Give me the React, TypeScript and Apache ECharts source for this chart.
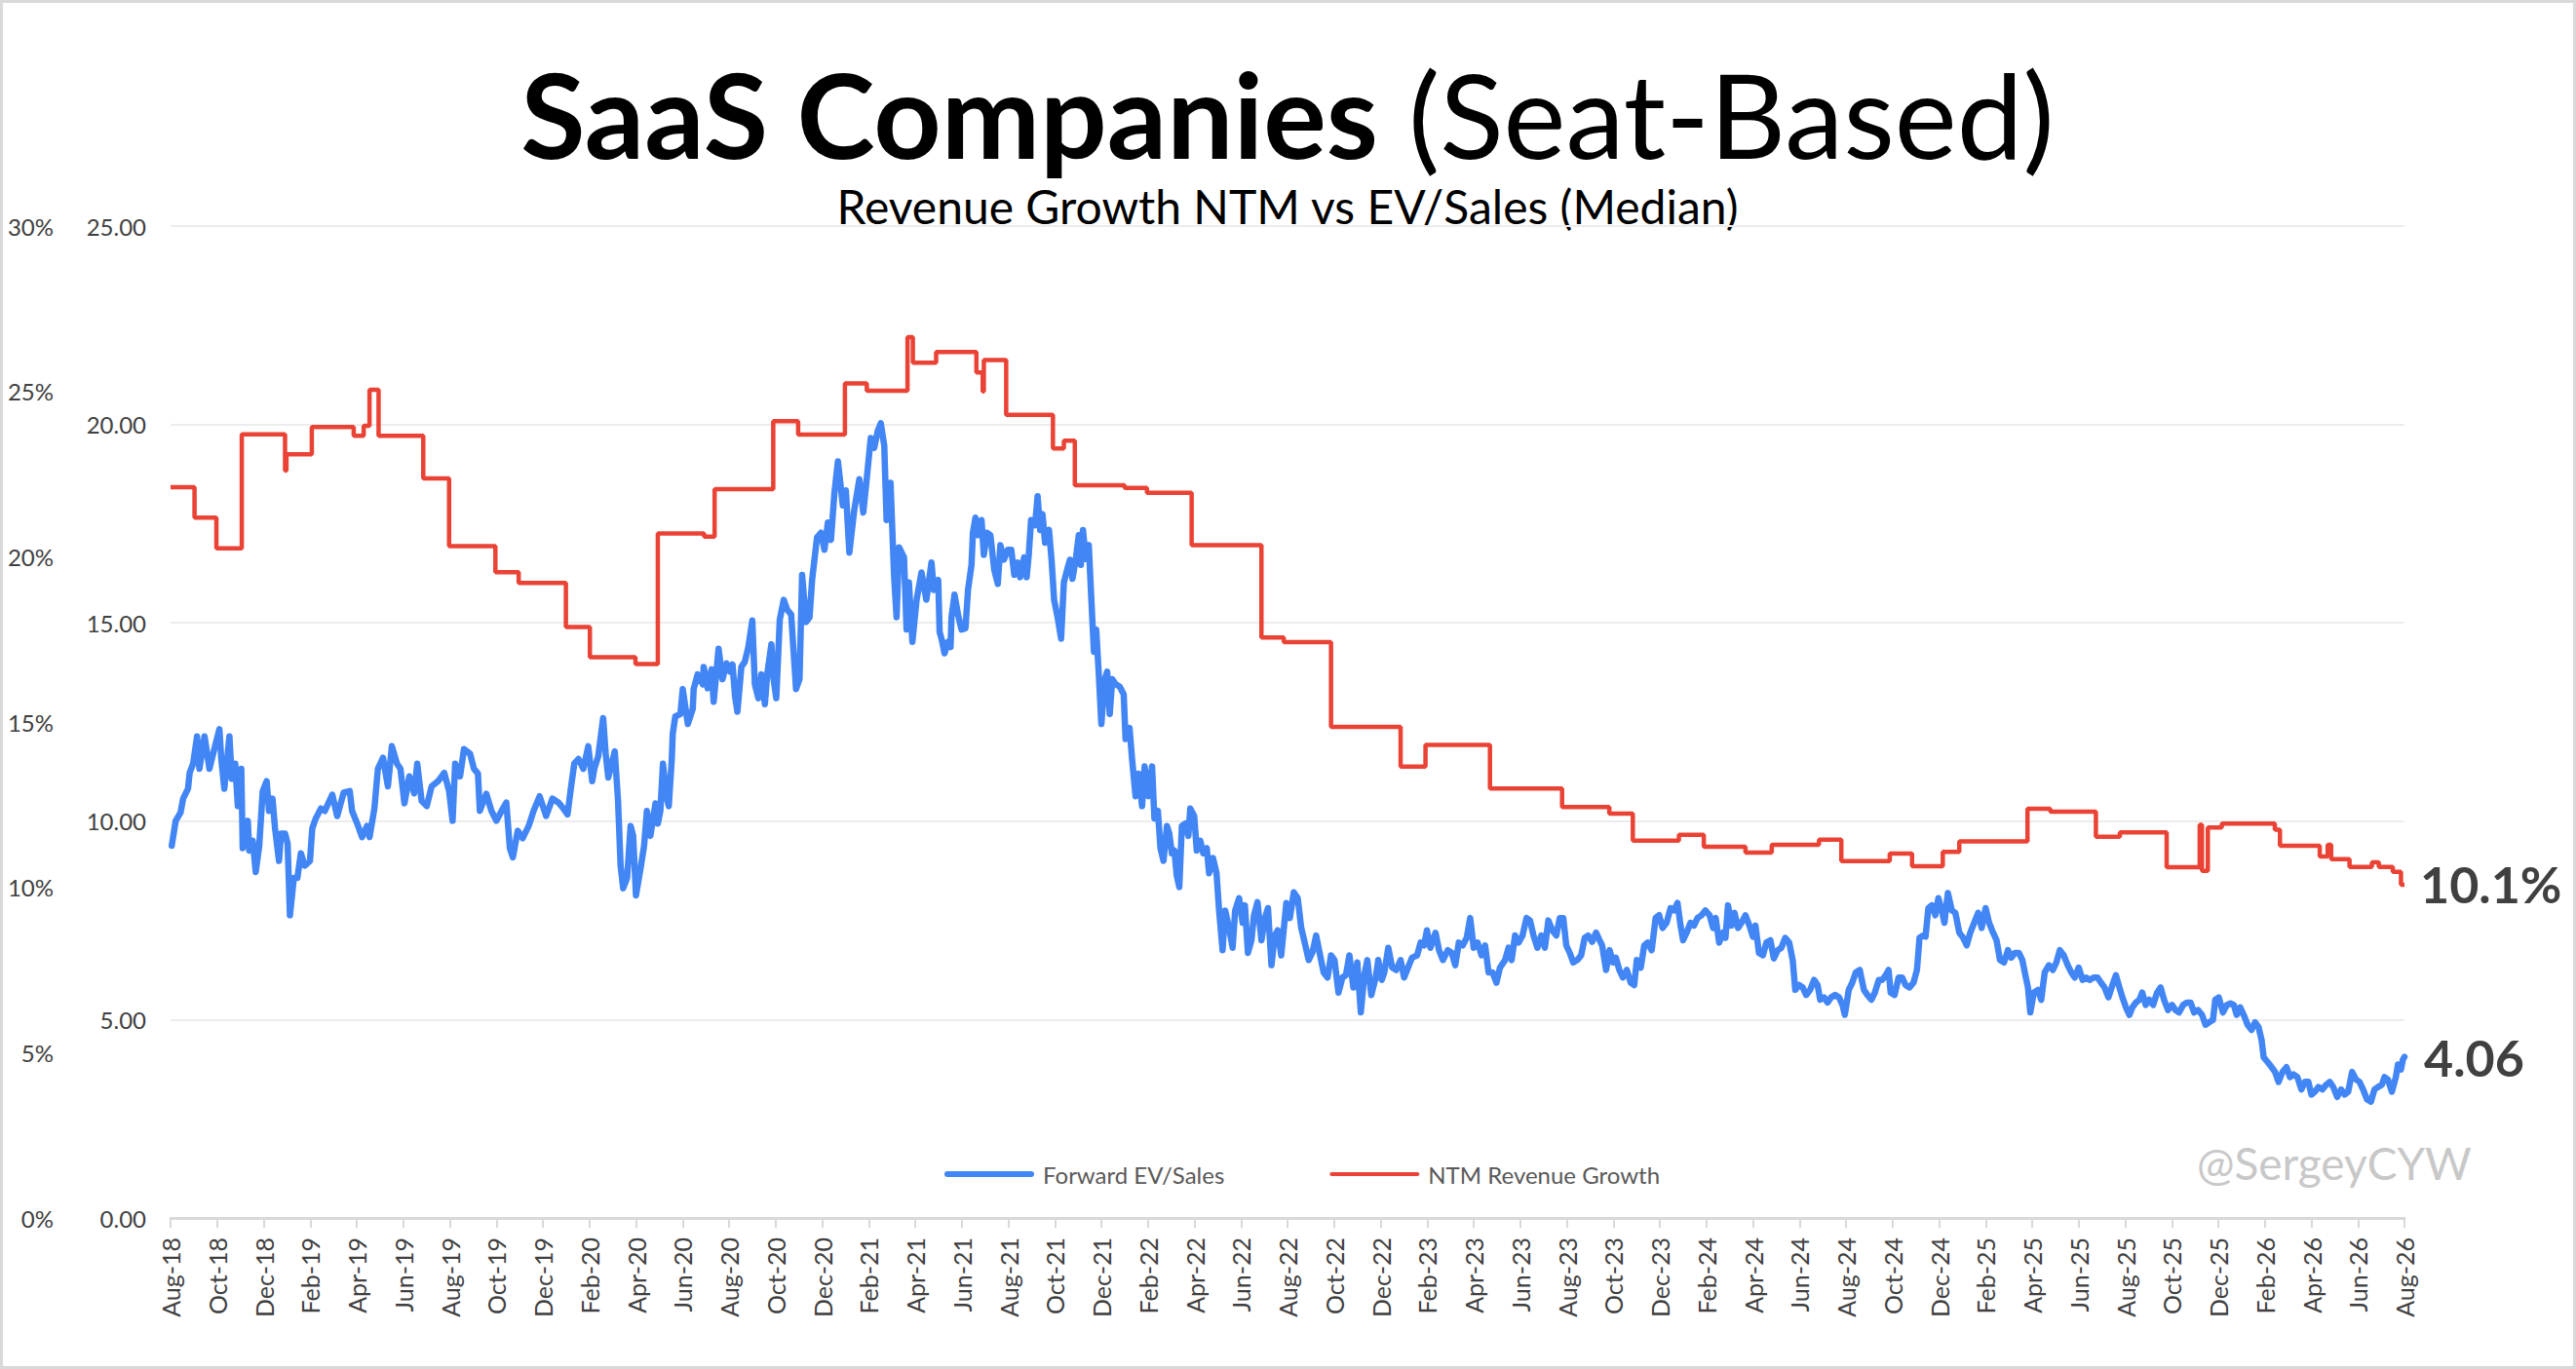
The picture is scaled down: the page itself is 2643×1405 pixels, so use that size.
import { useRef, useEffect } from 'react'
import * as echarts from 'echarts'

const FONT = 'Lato, "Open Sans", sans-serif'

// x = months since Aug-18, ticks every 2 months
const TICK_LABELS = [
  'Aug-18', 'Oct-18', 'Dec-18', 'Feb-19', 'Apr-19', 'Jun-19', 'Aug-19', 'Oct-19', 'Dec-19',
  'Feb-20', 'Apr-20', 'Jun-20', 'Aug-20', 'Oct-20', 'Dec-20', 'Feb-21', 'Apr-21', 'Jun-21',
  'Aug-21', 'Oct-21', 'Dec-21', 'Feb-22', 'Apr-22', 'Jun-22', 'Aug-22', 'Oct-22', 'Dec-22',
  'Feb-23', 'Apr-23', 'Jun-23', 'Aug-23', 'Oct-23', 'Dec-23', 'Feb-24', 'Apr-24', 'Jun-24',
  'Aug-24', 'Oct-24', 'Dec-24', 'Feb-25', 'Apr-25', 'Jun-25', 'Aug-25', 'Oct-25', 'Dec-25',
  'Feb-26', 'Apr-26', 'Jun-26', 'Aug-26',
]

// NTM revenue growth (%), step changes: [month, value]
const GROWTH_MONTH = [
  0, 1.03, 1.97, 3.06, 4.92, 4.98, 6.07, 7.87, 8.3, 8.55, 8.94, 10.86, 11.97, 13.96, 14.96,
  16.99, 18.02, 19.98, 20.94, 22.93, 23.38, 25.9, 26.97, 28.98, 29.92, 31.67, 31.9, 32.9,
  34.63, 34.9, 34.95, 35.91, 37.92, 38.39, 38.86, 41.0, 41.96, 43.88, 46.88, 47.84, 49.87,
  52.86, 53.93, 56.7, 59.8, 61.83, 62.84, 64.82, 65.89, 67.68, 68.81, 70.84, 71.8, 73.88,
  74.84, 76.16, 76.87, 79.8, 80.78, 82.74, 83.77, 85.78, 87.2, 87.3, 87.55, 88.15, 90.43,
  90.65, 92.36, 92.7, 92.85, 93.64, 94.6, 94.9, 95.5, 95.85, 96,
]
const GROWTH_VALUE = [
  22.1, 21.18, 20.25, 23.7, 22.6, 23.1, 23.92, 23.66, 23.96, 25.05, 23.66, 22.37, 20.32, 19.53, 19.21,
  17.87, 16.96, 16.75, 20.7, 20.61, 22.04, 24.1, 23.69, 25.24, 25.02, 26.64, 25.87, 26.19,
  25.57, 25.0, 25.95, 24.29, 23.27, 23.51, 22.16, 22.08, 21.93, 20.35, 17.56, 17.42, 14.85,
  13.65, 14.31, 12.99, 12.43, 12.23, 11.41, 11.59, 11.23, 11.05, 11.29, 11.44, 10.79, 11.02,
  10.64, 11.07, 11.39, 12.38, 12.29, 11.53, 11.66, 10.61, 11.89, 10.5, 11.81, 11.93, 11.74,
  11.26, 10.93, 11.29, 10.85, 10.62, 10.76, 10.62, 10.47, 10.08, 10.1,
]

// Forward EV/Sales: [month, multiple]
const EV_SALES: [number, number][] = [
  [0.05, 9.38], [0.22, 10.01], [0.43, 10.22], [0.54, 10.57], [0.75, 10.82], [0.82, 11.22], [0.97, 11.45],
  [1.14, 12.14], [1.24, 11.32], [1.46, 12.14], [1.67, 11.32], [1.88, 11.82], [2.1, 12.32], [2.18, 11.57],
  [2.31, 10.82], [2.53, 12.14], [2.63, 11.07], [2.78, 11.45], [2.89, 10.38], [3.04, 11.32], [3.1, 9.32],
  [3.32, 10.01], [3.38, 9.26], [3.53, 9.51], [3.66, 8.72], [3.81, 9.38], [3.96, 10.76], [4.13, 11.01],
  [4.23, 10.26], [4.38, 10.57], [4.49, 9.82], [4.66, 9.0], [4.75, 9.69], [4.92, 9.69], [5.03, 9.44],
  [5.13, 7.63], [5.3, 8.57], [5.45, 8.57], [5.6, 9.19], [5.77, 8.88], [5.99, 9.0], [6.09, 9.82],
  [6.24, 10.07], [6.46, 10.32], [6.63, 10.26], [6.95, 10.67], [7.16, 10.13], [7.44, 10.72], [7.7, 10.76],
  [7.8, 10.26], [8.02, 9.94], [8.23, 9.6], [8.44, 9.88], [8.55, 9.6], [8.76, 10.32], [8.91, 11.32],
  [9.13, 11.6], [9.34, 10.88], [9.51, 11.89], [9.73, 11.45], [9.88, 11.32], [10.05, 10.45], [10.26, 11.13],
  [10.47, 10.7], [10.6, 11.45], [10.79, 10.51], [11.01, 10.38], [11.22, 10.88], [11.5, 11.01], [11.76, 11.22],
  [11.97, 10.76], [12.12, 10.01], [12.23, 11.45], [12.44, 11.13], [12.61, 11.82], [12.87, 11.7], [13.04, 11.32],
  [13.21, 11.2], [13.29, 10.26], [13.57, 10.69], [13.79, 10.26], [14.0, 10.01], [14.28, 10.32], [14.43, 10.47],
  [14.58, 9.32], [14.71, 9.09], [14.92, 9.76], [15.13, 9.57], [15.39, 9.88], [15.6, 10.26], [15.86, 10.63],
  [16.14, 10.13], [16.41, 10.57], [16.67, 10.47], [16.88, 10.32], [17.06, 10.17], [17.2, 10.82], [17.35, 11.45],
  [17.53, 11.57], [17.74, 11.32], [17.95, 11.89], [18.12, 11.01], [18.21, 11.32], [18.38, 11.64], [18.59, 12.6],
  [18.7, 11.7], [18.81, 11.1], [18.96, 11.45], [19.09, 11.76], [19.23, 10.51], [19.34, 8.88], [19.45, 8.31],
  [19.62, 8.57], [19.77, 9.88], [19.88, 9.63], [20.0, 8.13], [20.2, 8.82], [20.35, 9.38], [20.47, 10.26],
  [20.62, 9.63], [20.84, 10.45], [20.94, 9.94], [21.05, 10.26], [21.16, 11.45], [21.33, 10.57], [21.41, 10.38],
  [21.54, 11.57], [21.58, 12.2], [21.69, 12.64], [21.91, 12.7], [22.01, 13.33], [22.23, 12.45], [22.44, 12.83],
  [22.48, 13.33], [22.65, 13.7], [22.87, 13.45], [22.91, 13.89], [23.08, 13.35], [23.25, 13.83], [23.34, 13.01],
  [23.55, 14.35], [23.72, 13.58], [23.89, 13.98], [24.04, 13.77], [24.15, 13.95], [24.26, 13.14], [24.36, 12.76],
  [24.53, 13.89], [24.68, 14.02], [24.83, 14.39], [25.0, 15.06], [25.11, 13.45], [25.26, 13.1], [25.39, 13.7],
  [25.54, 12.95], [25.64, 13.7], [25.82, 14.46], [25.9, 13.64], [26.03, 13.1], [26.18, 15.08], [26.35, 15.58],
  [26.5, 15.33], [26.67, 15.21], [26.88, 13.33], [27.03, 13.58], [27.14, 16.21], [27.31, 15.02], [27.46, 15.14],
  [27.57, 16.08], [27.78, 17.15], [27.95, 17.27], [28.1, 16.84], [28.25, 17.53], [28.38, 17.09], [28.53, 18.28],
  [28.68, 19.07], [28.89, 17.96], [29.02, 18.34], [29.17, 16.77], [29.38, 17.84], [29.6, 18.62], [29.77, 17.78],
  [29.92, 18.65], [30.09, 19.66], [30.24, 19.41], [30.39, 19.84], [30.52, 20.03], [30.67, 19.47], [30.77, 17.59],
  [30.94, 18.53], [31.09, 16.21], [31.2, 15.14], [31.31, 16.9], [31.52, 16.65], [31.63, 14.83], [31.73, 16.02],
  [31.88, 14.52], [32.06, 15.58], [32.27, 16.27], [32.48, 15.58], [32.7, 16.52], [32.8, 15.83],
  [32.99, 16.08], [33.05, 14.77], [33.14, 14.58], [33.26, 14.23], [33.41, 14.52], [33.52, 14.39], [33.56, 15.14],
  [33.69, 15.71], [33.84, 15.21], [33.99, 14.83], [34.16, 14.86], [34.27, 15.83], [34.42, 16.46], [34.48, 17.27],
  [34.59, 17.65], [34.7, 17.21], [34.85, 17.59], [34.95, 16.71], [35.08, 17.27], [35.23, 17.21], [35.4, 16.33],
  [35.55, 15.98], [35.66, 16.96], [35.81, 16.59], [35.98, 16.84], [36.13, 16.84], [36.26, 16.21], [36.41, 16.52],
  [36.51, 16.15], [36.68, 16.65], [36.79, 16.15], [36.88, 16.71], [36.98, 17.59], [37.15, 17.46], [37.26, 18.19],
  [37.37, 17.34], [37.47, 17.74], [37.58, 17.02], [37.75, 17.34], [37.86, 16.59], [37.97, 15.58], [38.12, 15.14],
  [38.27, 14.6], [38.39, 16.02], [38.54, 16.36], [38.65, 16.59], [38.76, 16.11], [38.91, 16.65], [39.03, 17.21],
  [39.12, 16.46], [39.21, 17.34], [39.33, 16.61], [39.46, 16.96], [39.55, 15.83], [39.68, 14.27], [39.78, 14.83],
  [39.89, 13.7], [40.0, 12.45], [40.15, 13.58], [40.25, 13.77], [40.36, 12.7], [40.47, 13.58], [40.62, 13.45],
  [40.79, 13.39], [40.96, 13.2], [41.04, 12.07], [41.21, 12.35], [41.32, 11.57], [41.47, 10.63], [41.6, 11.2],
  [41.75, 10.38], [41.86, 11.38], [42.03, 10.63], [42.18, 11.38], [42.28, 10.07], [42.43, 10.26], [42.54, 9.32],
  [42.67, 9.0], [42.82, 9.88], [42.92, 9.69], [43.03, 9.19], [43.14, 9.26], [43.24, 8.63], [43.35, 8.34],
  [43.46, 9.88], [43.61, 9.94], [43.74, 9.63], [43.82, 10.32], [43.99, 10.13], [44.1, 9.26], [44.25, 9.51],
  [44.38, 9.19], [44.53, 9.32], [44.63, 8.69], [44.8, 9.07], [44.95, 8.69], [45.06, 7.75], [45.21, 6.75],
  [45.32, 7.75], [45.49, 7.31], [45.64, 6.81], [45.75, 7.75], [45.92, 8.06], [46.07, 7.44], [46.17, 7.88],
  [46.3, 6.68], [46.45, 7.0], [46.56, 7.63], [46.71, 7.96], [46.88, 7.0], [47.03, 7.56], [47.16, 7.81],
  [47.31, 6.37], [47.45, 7.12], [47.58, 7.25], [47.73, 6.62], [47.95, 7.94], [48.1, 7.56], [48.27, 8.21],
  [48.44, 8.06], [48.59, 7.31], [48.74, 6.94], [48.91, 6.5], [49.08, 6.71], [49.23, 7.12], [49.38, 6.68],
  [49.55, 6.19], [49.72, 6.06], [49.87, 6.62], [50.02, 6.5], [50.19, 5.68], [50.36, 6.06], [50.51, 6.12],
  [50.66, 6.62], [50.83, 5.81], [51.0, 6.44], [51.15, 5.18], [51.3, 6.12], [51.43, 6.5], [51.6, 5.62],
  [51.79, 6.06], [51.9, 6.5], [52.05, 6.0], [52.16, 6.19], [52.33, 6.81], [52.5, 6.31], [52.67, 6.25],
  [52.86, 6.5], [53.01, 6.06], [53.18, 6.31], [53.35, 6.56], [53.57, 6.62], [53.72, 6.94], [53.87, 6.87],
  [53.99, 7.25], [54.14, 6.81], [54.36, 7.19], [54.51, 6.75], [54.68, 6.5], [54.89, 6.75], [55.06, 6.68],
  [55.21, 6.37], [55.36, 6.94], [55.53, 6.87], [55.7, 7.06], [55.85, 7.56], [56.0, 6.81], [56.17, 6.94],
  [56.34, 6.62], [56.49, 6.87], [56.64, 6.19], [56.81, 6.19], [56.98, 5.93], [57.13, 6.31], [57.35, 6.5],
  [57.5, 6.81], [57.63, 6.5], [57.78, 7.12], [57.93, 6.94], [58.1, 7.12], [58.27, 7.56], [58.42, 7.5],
  [58.57, 7.12], [58.74, 6.81], [58.91, 7.12], [59.06, 6.81], [59.21, 7.5], [59.38, 7.25], [59.55, 7.12],
  [59.7, 7.56], [59.85, 7.56], [59.98, 6.87], [60.13, 6.68], [60.28, 6.44], [60.45, 6.5], [60.62, 6.62],
  [60.77, 7.06], [60.92, 7.12], [61.09, 6.96], [61.26, 7.19], [61.41, 7.0], [61.52, 6.87], [61.69, 6.25],
  [61.84, 6.75], [61.99, 6.44], [62.11, 6.56], [62.26, 6.25], [62.41, 6.06], [62.58, 6.25], [62.75, 5.93],
  [62.9, 5.87], [63.01, 6.5], [63.18, 6.31], [63.33, 6.87], [63.48, 6.94], [63.65, 6.75], [63.82, 7.56],
  [63.97, 7.63], [64.12, 7.31], [64.29, 7.44], [64.46, 7.81], [64.61, 7.75], [64.76, 7.94], [64.89, 7.37],
  [65.0, 7.0], [65.15, 7.19], [65.32, 7.44], [65.47, 7.37], [65.62, 7.56], [65.79, 7.63], [65.96, 7.75],
  [66.14, 7.63], [66.29, 7.31], [66.4, 7.56], [66.55, 6.94], [66.72, 7.19], [66.82, 7.06], [66.93, 7.88],
  [67.08, 7.37], [67.21, 7.69], [67.36, 7.31], [67.51, 7.44], [67.68, 7.63], [67.85, 7.37], [68.0, 7.09],
  [68.11, 7.37], [68.26, 6.68], [68.43, 6.62], [68.58, 6.94], [68.75, 7.0], [68.9, 6.54], [69.07, 6.75],
  [69.22, 6.81], [69.39, 7.06], [69.56, 6.94], [69.71, 6.5], [69.82, 5.75], [69.99, 5.87], [70.14, 5.81],
  [70.29, 5.62], [70.46, 5.75], [70.63, 6.0], [70.78, 5.87], [70.89, 5.5], [71.06, 5.56], [71.21, 5.43],
  [71.36, 5.56], [71.53, 5.62], [71.7, 5.56], [71.85, 5.37], [71.95, 5.12], [72.12, 5.75], [72.27, 5.93],
  [72.42, 6.19], [72.59, 6.25], [72.77, 5.75], [72.92, 5.62], [73.09, 5.5], [73.24, 5.68], [73.41, 6.0],
  [73.56, 6.0], [73.71, 6.12], [73.83, 6.25], [73.92, 5.68], [74.09, 5.62], [74.26, 6.06], [74.41, 6.06],
  [74.56, 5.87], [74.73, 5.81], [74.9, 5.93], [75.05, 6.25], [75.16, 7.06], [75.31, 7.12], [75.42, 7.09],
  [75.54, 7.81], [75.69, 7.88], [75.84, 7.63], [75.97, 8.06], [76.12, 7.75], [76.23, 7.44], [76.38, 8.19],
  [76.55, 7.75], [76.7, 7.69], [76.87, 7.19], [77.04, 7.06], [77.19, 6.87], [77.34, 7.19], [77.51, 7.44],
  [77.68, 7.69], [77.83, 7.31], [78.0, 7.81], [78.15, 7.44], [78.32, 7.19], [78.47, 7.0], [78.62, 6.5],
  [78.79, 6.44], [78.96, 6.75], [79.1, 6.56], [79.26, 6.68], [79.43, 6.68], [79.58, 6.5], [79.71, 6.12],
  [79.82, 5.81], [79.92, 5.18], [80.07, 5.68], [80.25, 5.75], [80.39, 5.5], [80.54, 6.19], [80.72, 6.37],
  [80.89, 6.25], [81.04, 6.44], [81.19, 6.75], [81.36, 6.62], [81.53, 6.37], [81.68, 6.19], [81.83, 6.06],
  [82.0, 6.31], [82.17, 6.0], [82.32, 6.06], [82.47, 6.0], [82.64, 6.06], [82.81, 6.06], [82.96, 5.93],
  [83.11, 5.81], [83.28, 5.56], [83.45, 5.87], [83.6, 6.12], [83.75, 5.81], [83.88, 5.56], [84.03, 5.31],
  [84.18, 5.12], [84.31, 5.31], [84.46, 5.43], [84.61, 5.5], [84.73, 5.68], [84.88, 5.37], [85.03, 5.5],
  [85.2, 5.37], [85.37, 5.68], [85.52, 5.81], [85.67, 5.5], [85.84, 5.24], [86.01, 5.37], [86.16, 5.24],
  [86.31, 5.18], [86.49, 5.37], [86.66, 5.43], [86.81, 5.43], [86.96, 5.18], [87.13, 5.24], [87.3, 5.12],
  [87.45, 4.87], [87.6, 4.93], [87.77, 4.99], [87.87, 5.5], [88.02, 5.56], [88.2, 5.18], [88.37, 5.37],
  [88.52, 5.41], [88.67, 5.37], [88.79, 5.12], [88.94, 5.31], [89.09, 5.12], [89.26, 4.87], [89.43, 4.74],
  [89.58, 4.93], [89.73, 4.81], [89.86, 4.49], [89.95, 4.05], [90.12, 3.93], [90.29, 3.8], [90.44, 3.68],
  [90.59, 3.43], [90.76, 3.68], [90.93, 3.8], [91.08, 3.55], [91.23, 3.62], [91.4, 3.55], [91.57, 3.24],
  [91.72, 3.43], [91.87, 3.43], [92.0, 3.11], [92.15, 3.18], [92.3, 3.3], [92.47, 3.24], [92.64, 3.36],
  [92.79, 3.43], [92.94, 3.3], [93.11, 3.05], [93.28, 3.24], [93.43, 3.11], [93.58, 3.18], [93.75, 3.68],
  [93.92, 3.49], [94.07, 3.43], [94.22, 3.24], [94.39, 2.99], [94.56, 2.93], [94.71, 3.24], [94.86, 3.3],
  [95.03, 3.36], [95.14, 3.55], [95.29, 3.49], [95.46, 3.18], [95.63, 3.55], [95.72, 3.87], [95.85, 3.74],
  [95.93, 3.99], [96.0, 4.06],
]

const BLUE = '#4285F4'
const RED = '#EA4335'
const LABEL = '#404040'

function buildOption(): echarts.EChartsOption {
  const growth = GROWTH_MONTH.map((m, i) => [m, GROWTH_VALUE[i]])
  return {
    animation: false,
    backgroundColor: '#ffffff',
    textStyle: { fontFamily: FONT },
    grid: { left: 175, right: 176, top: 232, bottom: 155, containLabel: false },
    legend: {
      left: 969,
      top: 1193,
      padding: 0,
      itemWidth: 92,
      itemHeight: 24,
      itemGap: 108,
      symbolKeepAspect: true,
      textStyle: { fontSize: 24, color: '#595959', fontFamily: FONT, padding: [0, 0, 0, 4] },
      data: [
        { name: 'Forward EV/Sales', icon: 'path://M3,0H89A3,3 0 0 1 89,6H3A3,3 0 0 1 3,0Z' },
        { name: 'NTM Revenue Growth', icon: 'path://M2,0H90A2,2 0 0 1 90,4H2A2,2 0 0 1 2,0Z' },
      ],
    },
    xAxis: {
      type: 'value',
      min: 0,
      max: 96,
      interval: 2,
      axisLine: { show: true, onZero: false, lineStyle: { color: '#d9d9d9', width: 3 } },
      axisTick: { show: true, length: 10, lineStyle: { color: '#d9d9d9', width: 2 } },
      splitLine: { show: false },
      axisLabel: {
        rotate: 90,
        margin: 20,
        fontSize: 25,
        color: LABEL,
        fontFamily: FONT,
        showMinLabel: true,
        showMaxLabel: true,
        hideOverlap: false,
        formatter: (v: number) => TICK_LABELS[Math.round(v / 2)] ?? '',
      },
    },
    yAxis: [
      {
        type: 'value',
        min: 0,
        max: 25,
        interval: 5,
        position: 'left',
        axisLine: { show: false },
        axisTick: { show: false },
        splitLine: { lineStyle: { color: '#ececec', width: 2 } },
        axisLabel: {
          margin: 25,
          fontSize: 24,
          color: LABEL,
          fontFamily: FONT,
          formatter: (v: number) => v.toFixed(2),
        },
      },
      {
        type: 'value',
        min: 0,
        max: 30,
        interval: 5,
        position: 'left',
        offset: 100,
        axisLine: { show: false },
        axisTick: { show: false },
        splitLine: { show: false },
        axisLabel: {
          margin: 20,
          fontSize: 24,
          color: LABEL,
          fontFamily: FONT,
          formatter: (v: number) => `${v}%`,
        },
      },
    ],
    graphic: [
      {
        type: 'rect',
        silent: true,
        shape: { x: 1.5, y: 1.5, width: 2640, height: 1402 },
        style: { fill: 'none', stroke: '#d9d9d9', lineWidth: 3 },
      },
      {
        type: 'text',
        x: 1321,
        y: 116,
        style: {
          text: '{b|SaaS Companies} {r|(Seat-Based)}',
          align: 'center',
          verticalAlign: 'middle',
          fill: '#000000',
          font: `121px ${FONT}`,
          rich: {
            b: { fontSize: 121, fontWeight: 'bold', fontFamily: FONT, fill: '#000000' },
            r: { fontSize: 121, fontWeight: 'normal', fontFamily: FONT, fill: '#000000' },
          },
        },
      },
      {
        type: 'text',
        x: 1321,
        y: 211,
        style: {
          text: 'Revenue Growth NTM vs EV/Sales (Median)',
          align: 'center',
          verticalAlign: 'middle',
          fill: '#000000',
          font: `48px ${FONT}`,
        },
      },
      {
        type: 'text',
        x: 2254,
        y: 1193,
        style: {
          text: '@SergeyCYW',
          align: 'left',
          verticalAlign: 'middle',
          fill: '#c8c8c8',
          font: `46px ${FONT}`,
        },
      },
    ],
    series: [
      {
        name: 'Forward EV/Sales',
        type: 'line',
        yAxisIndex: 0,
        data: EV_SALES,
        symbol: 'none',
        showSymbol: false,
        lineStyle: { color: BLUE, width: 6.5, join: 'round', cap: 'round' },
        itemStyle: { color: BLUE },
        endLabel: {
          show: true,
          distance: 20,
          fontSize: 52,
          fontWeight: 'bold',
          fontFamily: FONT,
          color: LABEL,
          formatter: (p: any) => Number(p.value[1]).toFixed(2),
        },
        z: 2,
      },
      {
        name: 'NTM Revenue Growth',
        type: 'line',
        yAxisIndex: 1,
        step: 'end',
        data: growth,
        symbol: 'none',
        showSymbol: false,
        lineStyle: { color: RED, width: 4.5 },
        itemStyle: { color: RED },
        endLabel: {
          show: true,
          distance: 16,
          fontSize: 52,
          fontWeight: 'bold',
          fontFamily: FONT,
          color: LABEL,
          formatter: (p: any) => `${Number(p.value[1]).toFixed(1)}%`,
        },
        z: 3,
      },
    ],
  }
}

export default function App() {
  const containerRef = useRef<HTMLDivElement>(null)

  useEffect(() => {
    const el = containerRef.current
    if (!el) return
    const chart = echarts.init(el, null, { renderer: 'svg' })
    chart.setOption(buildOption())
    return () => chart.dispose()
  }, [])

  return (
    <div style={{ position: 'fixed', left: 0, top: 0, width: 2643, height: 1405, background: '#ffffff' }}>
      <div ref={containerRef} style={{ width: 2643, height: 1405 }} />
    </div>
  )
}
